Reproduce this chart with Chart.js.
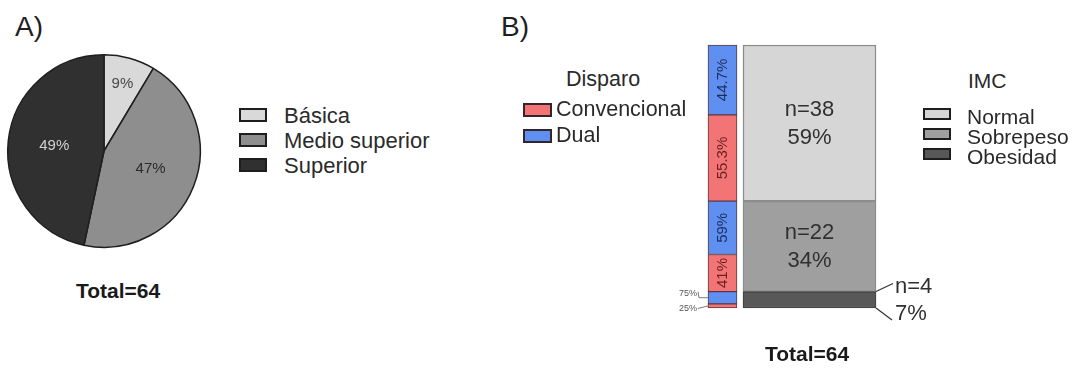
<!DOCTYPE html>
<html lang="es">
<head>
<meta charset="utf-8">
<title>Escolaridad, IMC y tipo de disparo</title>
<script src="https://cdn.jsdelivr.net/npm/chart.js@4.4.1/dist/chart.umd.min.js"></script>
<style>
  html, body { margin: 0; padding: 0; background: #ffffff; }
  body {
    width: 1079px; height: 368px; position: relative; overflow: hidden;
    font-family: "Liberation Sans", Arial, Helvetica, sans-serif; color: #222;
  }
  canvas { position: absolute; }
  .t { position: absolute; white-space: nowrap; line-height: 1; }
  .panel { font-size: 28px; color: #1f1f1f; }
  .total { font-size: 21px; font-weight: bold; color: #1a1a1a; transform: translateX(-50%); }
  .lg { font-size: 21px; color: #2a2a2a; }
  .box { position: absolute; box-sizing: border-box; border: 2px solid #202020; }
</style>
</head>
<body>
<canvas id="pie" width="210" height="210" style="left:-1px; top:46px;"></canvas>
<canvas id="bars" width="300" height="368" style="left:660px; top:0px;"></canvas>

<div class="t panel" style="left:15px; top:13px;">A)</div>
<div class="t panel" style="left:501px; top:13px;">B)</div>
<div class="t total" id="totalA" style="left:118px; top:280px;"></div>
<div class="t total" id="totalB" style="left:807px; top:343px;"></div>

<div id="legendNivel"></div>
<div id="legendDisparo"></div>
<div id="legendImc"></div>

<script>
// Panel A: escolaridad (porcentajes rotulados en el pastel)
const nivelLabels = ['Básica', 'Medio superior', 'Superior'];
const nivelPct = [9, 47, 49];
const totalN = 64;

// Panel B: IMC y tipo de disparo dentro de cada grupo de IMC
const barColumns = ['Disparo', 'IMC'];
const imcGroups = ['Normal', 'Sobrepeso', 'Obesidad'];
const imcCounts = [38, 22, 4];
const imcPct = [59, 34, 7];
const disparoTypes = ['Convencional', 'Dual'];
const convPct = [55.3, 41, 25];
const dualPct = [44.7, 59, 75];

// Colours
const nivelColors = ['#d9d9d9', '#8e8e8e', '#303030'];
const nivelTextColors = ['#474747', '#2b2b2b', '#d2d2d2'];
const imcColors = ['#d6d6d6', '#9f9f9f', '#585858'];
const disparoColors = ['#f27474', '#5f8ff0'];
const disparoTextColors = ['#6a1f24', '#1d2c5c'];
const FONT = '"Liberation Sans", Arial, Helvetica, sans-serif';

// ---------- HTML text: totals and legends ----------
document.getElementById('totalA').textContent = 'Total=' + totalN;
document.getElementById('totalB').textContent = 'Total=' + totalN;

function addLegend(hostId, title, names, colors, o) {
  const host = document.getElementById(hostId);
  if (title) {
    const h = document.createElement('div');
    h.className = 't lg';
    h.style.fontSize = o.font + 'px';
    h.style.left = o.titleX + 'px';
    h.style.top = o.titleY + 'px';
    h.textContent = title;
    host.appendChild(h);
  }
  names.forEach((name, i) => {
    const b = document.createElement('div');
    b.className = 'box';
    b.style.left = o.boxX + 'px';
    b.style.top = (o.boxY + i * o.step) + 'px';
    b.style.width = o.boxW + 'px';
    b.style.height = o.boxH + 'px';
    b.style.background = colors[i];
    b.style.borderColor = o.border;
    host.appendChild(b);
    const s = document.createElement('div');
    s.className = 't lg';
    s.style.fontSize = o.font + 'px';
    s.style.left = o.textX + 'px';
    s.style.top = (o.textY + i * o.step) + 'px';
    s.textContent = name;
    host.appendChild(s);
  });
}

addLegend('legendNivel', null, nivelLabels, nivelColors, {
  font: 22, boxX: 239, boxY: 108, boxW: 28, boxH: 14, step: 25,
  textX: 284, textY: 105, border: '#1e1e1e'
});
addLegend('legendDisparo', 'Disparo', disparoTypes, disparoColors, {
  font: 21.5, titleX: 566, titleY: 69, boxX: 523, boxY: 103, boxW: 29, boxH: 14, step: 26,
  textX: 556, textY: 99, border: '#33262b'
});
addLegend('legendImc', 'IMC', imcGroups, imcColors, {
  font: 21, titleX: 968, titleY: 70, boxX: 923, boxY: 108, boxW: 28, boxH: 12, step: 20,
  textX: 967, textY: 106, border: '#1e1e1e'
});

// ---------- Panel A: pie ----------
const pieLabels = {
  id: 'pieLabels',
  afterDatasetsDraw(chart) {
    const ctx = chart.ctx;
    const ds = chart.data.datasets[0];
    const sum = ds.data.reduce((a, b) => a + b, 0);
    ctx.save();
    ctx.font = '15px ' + FONT;
    ctx.textAlign = 'center';
    ctx.textBaseline = 'middle';
    chart.getDatasetMeta(0).data.forEach((arc, i) => {
      const mid = (arc.startAngle + arc.endAngle) / 2;
      const r = arc.outerRadius * (ds.data[i] / sum < 0.15 ? 0.72 : 0.52);
      ctx.fillStyle = nivelTextColors[i];
      ctx.fillText(ds.data[i] + '%', arc.x + Math.cos(mid) * r, arc.y + Math.sin(mid) * r);
    });
    ctx.restore();
  }
};

new Chart(document.getElementById('pie'), {
  type: 'pie',
  data: {
    labels: nivelLabels,
    datasets: [{
      data: nivelPct,
      backgroundColor: nivelColors,
      borderColor: '#1e1e1e',
      borderWidth: 1.5
    }]
  },
  options: {
    responsive: false,
    animation: false,
    layout: { padding: 8 },
    plugins: { legend: { display: false }, tooltip: { enabled: false } }
  },
  plugins: [pieLabels]
});

// ---------- Panel B: stacked columns ----------
const datasets = [];
const segInfo = [];
for (let i = imcGroups.length - 1; i >= 0; i--) {
  [convPct, dualPct].forEach((pct, k) => {
    datasets.push({
      label: disparoTypes[k] + ' / ' + imcGroups[i],
      data: [imcCounts[i] * pct[i] / 100, null],
      backgroundColor: disparoColors[k],
      borderColor: '#5a3844',
      borderWidth: 1,
      borderSkipped: false,
      barThickness: 29,
      clip: false
    });
    segInfo.push({ kind: 'disparo', col: 0, group: i, type: k, pct: pct[i] });
  });
}
for (let i = imcGroups.length - 1; i >= 0; i--) {
  datasets.push({
    label: imcGroups[i],
    data: [null, imcCounts[i]],
    backgroundColor: imcColors[i],
    borderColor: i === 2 ? '#444444' : '#8c8c8c',
    borderWidth: 1.5,
    borderSkipped: false,
    barThickness: 133,
    clip: false
  });
  segInfo.push({ kind: 'imc', col: 1, group: i });
}

const barLabels = {
  id: 'barLabels',
  afterDatasetsDraw(chart) {
    const ctx = chart.ctx;
    ctx.save();
    chart.data.datasets.forEach((ds, di) => {
      const info = segInfo[di];
      const el = chart.getDatasetMeta(di).data[info.col];
      const top = Math.min(el.y, el.base);
      const bottom = Math.max(el.y, el.base);
      const cy = (top + bottom) / 2;
      const left = el.x - el.width / 2;
      const right = el.x + el.width / 2;
      if (info.kind === 'imc') {
        const n = imcCounts[info.group];
        const p = imcPct[info.group] + '%';
        ctx.fillStyle = '#303030';
        ctx.font = '22px ' + FONT;
        ctx.textBaseline = 'middle';
        if (bottom - top > 40) {
          ctx.textAlign = 'center';
          ctx.fillText('n=' + n, el.x, cy - 13);
          ctx.fillText(p, el.x, cy + 15);
        } else {
          ctx.strokeStyle = '#333333';
          ctx.lineWidth = 1.2;
          ctx.beginPath();
          ctx.moveTo(right, top);
          ctx.lineTo(right + 17, top - 8);
          ctx.moveTo(right, bottom);
          ctx.lineTo(right + 16, bottom + 12);
          ctx.stroke();
          ctx.textAlign = 'left';
          ctx.fillText('n=' + n, right + 19, top - 5);
          ctx.fillText(p, right + 19, bottom + 6);
        }
      } else {
        const txt = info.pct + '%';
        if (bottom - top > 30) {
          ctx.save();
          ctx.translate(el.x, cy);
          ctx.rotate(-Math.PI / 2);
          ctx.font = '15px ' + FONT;
          ctx.textAlign = 'center';
          ctx.textBaseline = 'middle';
          ctx.fillStyle = disparoTextColors[info.type];
          ctx.fillText(txt, 0, 0);
          ctx.restore();
        } else {
          ctx.font = '9px ' + FONT;
          ctx.textAlign = 'right';
          ctx.textBaseline = 'middle';
          ctx.fillStyle = '#555555';
          ctx.strokeStyle = '#7a7a7a';
          ctx.lineWidth = 1;
          ctx.beginPath();
          if (info.type === 1) {
            ctx.fillText(txt, left - 11, cy - 4);
            ctx.moveTo(left - 10, cy - 6);
            ctx.lineTo(left - 9, cy);
            ctx.lineTo(left, cy);
          } else {
            ctx.fillText(txt, left - 11, cy + 2.5);
            ctx.moveTo(left - 10, cy + 2.5);
            ctx.lineTo(left, cy);
          }
          ctx.stroke();
        }
      }
    });
    ctx.restore();
  }
};

new Chart(document.getElementById('bars'), {
  type: 'bar',
  data: { labels: barColumns, datasets },
  options: {
    responsive: false,
    animation: false,
    layout: { padding: { left: 19, right: 107, top: 45, bottom: 60 } },
    scales: {
      x: { stacked: true, display: false },
      y: { stacked: true, display: false, min: 0, max: totalN }
    },
    plugins: { legend: { display: false }, tooltip: { enabled: false } }
  },
  plugins: [barLabels]
});
</script>
</body>
</html>
